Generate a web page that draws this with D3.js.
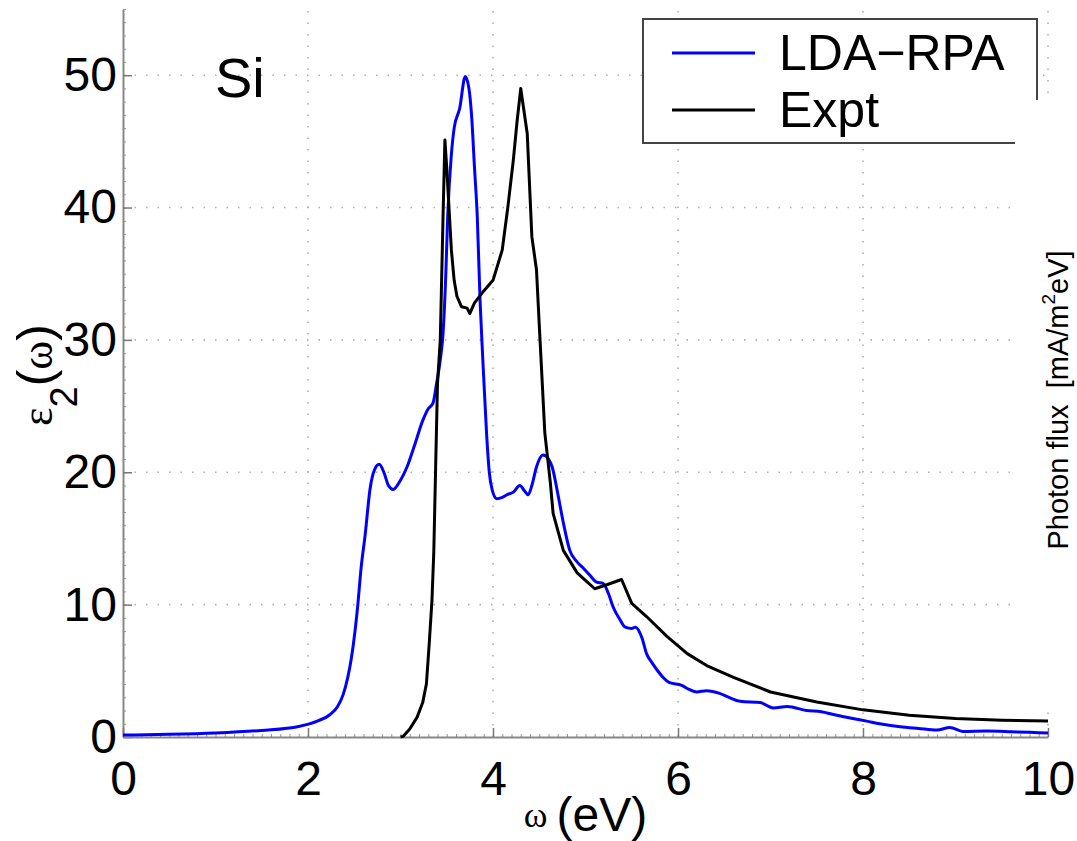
<!DOCTYPE html>
<html>
<head>
<meta charset="utf-8">
<script src="https://cdn.jsdelivr.net/npm/d3@7"></script>
<style>
  body { margin: 0; background: #fff; }
  svg { display: block; font-family: "Liberation Sans", Arial, Helvetica, sans-serif; }
</style>
</head>
<body>
<svg id="chart" width="1077" height="841"></svg>
<script>
// LDA-RPA curve (photon energy in eV, eps2)
const omegaLda = [0, 0.5, 1.0, 1.5, 1.9, 2.1, 2.24, 2.32, 2.38, 2.43, 2.47, 2.51, 2.54, 2.57, 2.62, 2.67,
  2.72, 2.77, 2.82, 2.87, 2.92, 3.0, 3.07, 3.15, 3.24, 3.30, 3.35, 3.39, 3.43, 3.46, 3.49, 3.51, 3.55,
  3.58, 3.64, 3.70, 3.74, 3.77, 3.80, 3.83, 3.86, 3.89, 3.93, 3.96, 3.99, 4.04, 4.10, 4.15, 4.22, 4.29,
  4.34, 4.38, 4.42, 4.47, 4.54, 4.60, 4.64, 4.70, 4.76, 4.83, 4.90, 4.97, 5.05, 5.12, 5.19, 5.25, 5.30,
  5.37, 5.43, 5.50, 5.54, 5.61, 5.66, 5.72, 5.77, 5.84, 5.91, 6.04, 6.12, 6.2, 6.31, 6.45, 6.55, 6.67,
  6.89, 7.03, 7.18, 7.39, 7.55, 7.68, 7.89, 8.04, 8.18, 8.4, 8.6, 8.8, 8.94, 9.08, 9.34, 9.6, 9.8, 10];
const epsLda = [0.15, 0.2, 0.3, 0.5, 0.8, 1.2, 1.7, 2.3, 3.2, 4.5, 6.0, 8.1, 10.1, 12.5, 15.4, 18.7,
  20.2, 20.6, 20.0, 19.0, 18.7, 19.4, 20.4, 22.0, 23.9, 24.8, 25.2, 26.7, 28.5, 30.5, 35, 39.3, 44.0,
  46.0, 47.5, 49.9, 49.0, 46.8, 43, 39.3, 33, 28.5, 23.0, 20.0, 18.7, 18.0, 18.1, 18.3, 18.5, 19.0,
  18.6, 18.3, 19.0, 20.4, 21.3, 21.0, 20.4, 18.4, 16.2, 14.1, 13.3, 12.8, 12.2, 11.7, 11.6, 10.8, 9.8,
  8.9, 8.3, 8.2, 8.3, 7.5, 6.3, 5.6, 5.1, 4.5, 4.1, 3.9, 3.6, 3.4, 3.5, 3.3, 3.0, 2.7,
  2.6, 2.2, 2.3, 2.0, 1.9, 1.7, 1.4, 1.2, 1.0, 0.78, 0.65, 0.53, 0.72, 0.42, 0.45, 0.4, 0.35, 0.3];

// experiment
const omegaExpt = [3.0, 3.03, 3.1, 3.18, 3.24, 3.28, 3.31, 3.34, 3.36, 3.38, 3.40, 3.43, 3.46, 3.48,
  3.50, 3.52, 3.55, 3.58, 3.61, 3.66, 3.72, 3.75, 3.80, 3.90, 4.0, 4.10, 4.16, 4.22, 4.26, 4.30, 4.37,
  4.42, 4.47, 4.51, 4.56, 4.62, 4.65, 4.76, 4.91, 5.02, 5.10, 5.23, 5.39, 5.50, 5.66, 5.88, 6.1, 6.31,
  6.6, 7.0, 7.5, 8.0, 8.5, 9.0, 9.5, 10];
const epsExpt = [0, 0.05, 0.6, 1.5, 2.6, 4.0, 7, 10.3, 14, 20.4, 26.7, 30, 39.3, 45.1,
  43, 40.5, 36.8, 34.5, 33.3, 32.5, 32.4, 32.0, 32.8, 33.7, 34.5, 36.8, 40.0, 43.6, 46.5, 49.0, 45.6,
  37.8, 35.3, 29.8, 23.0, 19.2, 16.9, 14.1, 12.4, 11.7, 11.2, 11.5, 11.9, 10.1, 9.1, 7.6, 6.3, 5.4,
  4.5, 3.4, 2.65, 2.05, 1.65, 1.4, 1.27, 1.2];

const xTicks = [0, 2, 4, 6, 8, 10];
const yTicks = [0, 10, 20, 30, 40, 50];
const seriesNames = ["LDA\u2212RPA", "Expt"];
const seriesColors = ["#0000ff", "#000000"];

const width = 1077, height = 841;

const svg = d3.select("#chart");

const x = d3.scaleLinear().domain([0, 10]).range([123, 1048]);
const y = d3.scaleLinear().domain([0, 55]).range([737, 9]);

// dotted grid
const grid = svg.append("g").attr("class", "grid")
  .attr("stroke", "#b0b0b0")
  .attr("stroke-width", 1.6)
  .attr("stroke-dasharray", "1.5,10");
grid.selectAll("line.v")
  .data(xTicks.slice(1))
  .join("line")
    .attr("class", "v")
    .attr("x1", d => x(d)).attr("x2", d => x(d))
    .attr("y1", y(0)).attr("y2", y(55));
grid.selectAll("line.h")
  .data(yTicks.slice(1))
  .join("line")
    .attr("class", "h")
    .attr("x1", x(0)).attr("x2", x(10))
    .attr("y1", d => y(d)).attr("y2", d => y(d));

// minor ticks
svg.append("g")
  .attr("transform", `translate(${x(0)},0)`)
  .call(d3.axisLeft(y).tickValues(d3.range(0, 55.01, 1)).tickSize(-3).tickSizeOuter(0).tickFormat(""))
  .call(g => g.select(".domain").remove())
  .selectAll("line").attr("stroke", "#999");
svg.append("g")
  .attr("transform", `translate(0,${y(0)})`)
  .call(d3.axisBottom(x).tickValues(d3.range(0, 10.001, 0.1)).tickSize(-3).tickSizeOuter(0).tickFormat(""))
  .call(g => g.select(".domain").remove())
  .selectAll("line").attr("stroke", "#999");

// major axes
const yAxis = svg.append("g")
  .attr("transform", `translate(${x(0)},0)`)
  .call(d3.axisLeft(y).tickValues(yTicks).tickSize(-9).tickSizeOuter(0).tickPadding(6).tickFormat(d3.format("d")));
const xAxis = svg.append("g")
  .attr("transform", `translate(0,${y(0)})`)
  .call(d3.axisBottom(x).tickValues(xTicks).tickSize(-9).tickSizeOuter(0).tickPadding(24).tickFormat(d3.format("d")));

[xAxis, yAxis].forEach(g => {
  g.select(".domain").attr("stroke", "#888").attr("stroke-width", 2);
  g.selectAll(".tick line").attr("stroke", "#777").attr("stroke-width", 1.5);
  g.selectAll(".tick text")
    .attr("fill", "#000")
    .style("font-family", "'Liberation Sans', Arial, sans-serif")
    .style("font-size", "48px");
});

// curves
const line = d3.line()
  .x(d => x(d[0]))
  .y(d => y(d[1]));

const ldaPts = omegaLda.map((w, i) => [w, epsLda[i]]);
const exptPts = omegaExpt.map((w, i) => [w, epsExpt[i]]);

svg.append("path")
  .datum(ldaPts)
  .attr("fill", "none")
  .attr("stroke", seriesColors[0])
  .attr("stroke-width", 3)
  .attr("stroke-linejoin", "round")
  .attr("d", line.curve(d3.curveMonotoneX));

svg.append("path")
  .datum(exptPts)
  .attr("fill", "none")
  .attr("stroke", seriesColors[1])
  .attr("stroke-width", 3)
  .attr("stroke-linejoin", "round")
  .attr("d", line.curve(d3.curveLinear));

// legend
const legend = svg.append("g").attr("class", "legend");
legend.append("rect")
  .attr("x", 643).attr("y", 19)
  .attr("width", 394).attr("height", 124)
  .attr("fill", "#fff")
  .attr("stroke", "#444")
  .attr("stroke-width", 2);
const rows = legend.selectAll("g.row")
  .data(seriesNames)
  .join("g")
    .attr("class", "row")
    .attr("transform", (d, i) => `translate(0,${53 + i * 57})`);
rows.append("line")
  .attr("x1", 672).attr("x2", 755)
  .attr("stroke", (d, i) => seriesColors[i])
  .attr("stroke-width", 3);
rows.append("text")
  .attr("x", 779).attr("y", 17)
  .style("font-size", "50px")
  .text(d => d);

// white patch pasted over the right edge
svg.append("rect")
  .attr("x", 1015).attr("y", 100)
  .attr("width", 62).attr("height", 605)
  .attr("fill", "#fff");

svg.append("text")
  .attr("transform", "translate(1068,400) rotate(-90)")
  .attr("text-anchor", "middle")
  .style("font-size", "29px")
  .style("white-space", "pre")
  .call(t => {
    t.append("tspan").text("Photon flux  [mA/m");
    t.append("tspan").attr("dy", -13).style("font-size", "19px").text("2");
    t.append("tspan").attr("dy", 13).text("eV]");
  });

// labels
svg.append("text")
  .attr("x", 215).attr("y", 97)
  .style("font-size", "56px")
  .text("Si");

svg.append("text")
  .attr("transform", "translate(52,375) rotate(-90)")
  .attr("text-anchor", "middle")
  .call(t => {
    t.append("tspan").style("font-family", "'Liberation Serif', serif").style("font-size", "44px").text("ε");
    t.append("tspan").attr("dy", 25).style("font-size", "38px").text("2");
    t.append("tspan").attr("dy", -25).style("font-size", "50px").text("(");
    t.append("tspan").style("font-family", "'Liberation Serif', serif").style("font-size", "44px").text("ω");
    t.append("tspan").style("font-size", "50px").text(")");
  });

svg.append("text")
  .attr("x", (x(0) + x(10)) / 2).attr("y", 831)
  .attr("text-anchor", "middle")
  .style("white-space", "pre")
  .call(t => {
    t.append("tspan").attr("dy", -4).style("font-family", "'Liberation Serif', serif").style("font-size", "36px").text("ω ");
    t.append("tspan").attr("dy", 4).style("font-size", "48px").text("(eV)");
  });
</script>
</body>
</html>
